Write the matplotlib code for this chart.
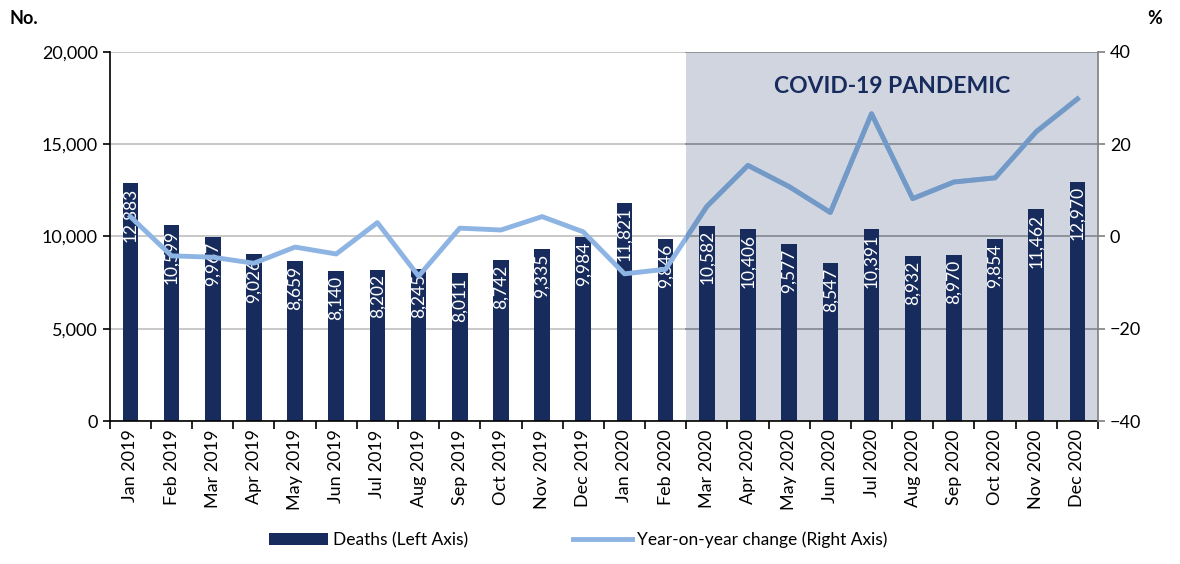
import matplotlib.pyplot as plt
from matplotlib.patches import Rectangle
import numpy as np

plt.rcParams['font.family'] = ['Lato', 'DejaVu Sans']

months = ["Jan 2019", "Feb 2019", "Mar 2019", "Apr 2019", "May 2019", "Jun 2019",
          "Jul 2019", "Aug 2019", "Sep 2019", "Oct 2019", "Nov 2019", "Dec 2019",
          "Jan 2020", "Feb 2020", "Mar 2020", "Apr 2020", "May 2020", "Jun 2020",
          "Jul 2020", "Aug 2020", "Sep 2020", "Oct 2020", "Nov 2020", "Dec 2020"]
deaths = [12883, 10599, 9967, 9026, 8659, 8140, 8202, 8245, 8011, 8742, 9335, 9984,
          11821, 9846, 10582, 10406, 9577, 8547, 10391, 8932, 8970, 9854, 11462, 12970]
yoy_change = [4.3, -4.2, -4.5, -5.8, -2.3, -3.8, 3.0, -8.6, 1.8, 1.4, 4.3, 1.0,
              -8.1, -7.1, 6.5, 15.4, 10.8, 5.2, 26.6, 8.2, 11.8, 12.7, 22.7, 29.8]
left_ticks = [0, 5000, 10000, 15000, 20000]
right_ticks = [-40, -20, 0, 20, 40]
covid_start = "Mar 2020"

navy = "#172B5C"
light = "#8DB4E2"
light_shaded = "#7399C6"

fig = plt.figure(figsize=(11.8, 5.64), dpi=100)
ax = fig.add_axes([0.093, 0.2535, 0.8375, 0.6545])
x = np.arange(len(months))
start = months.index(covid_start) - 0.5
end = len(months) - 0.5

# zona pandemia (detras de las barras)
ax.axvspan(start, end, facecolor="#D0D5E0", lw=0, zorder=1)

# barras
bars = ax.bar(x, deaths, width=0.38, color=navy, zorder=2, label="Deaths (Left Axis)")
for rect, v in zip(bars, deaths):
    ax.text(rect.get_x() + rect.get_width() / 2, rect.get_height() - 250, f"{v:,}",
            rotation=90, ha="center", va="top", color="white", fontsize=12.5, zorder=3)

ax.set_ylim(0, 20000)
ax.set_xlim(-0.5, end)
ax.set_yticks(left_ticks)
ax.set_yticklabels([f"{v:,}" for v in left_ticks], fontsize=13)
ax.set_axisbelow("line")
ax.yaxis.grid(True, color="#BFBFBF", linewidth=1.2)
# lineas de cuadricula mas oscuras dentro de la zona sombreada
for v in left_ticks[1:]:
    ax.plot([start, end], [v, v], color="#8E929C", linewidth=1.4, zorder=1.8)
ax.set_xticks(x)
ax.set_xticklabels(months, rotation=90, fontsize=13)
ax.tick_params(axis="x", length=0, pad=6)
ax.set_xticks(np.arange(-0.5, len(months), 1), minor=True)
ax.tick_params(axis="x", which="minor", length=6, width=1.2, color="black")
ax.tick_params(axis="y", length=5, width=1.2, direction="out")
for s in ["top", "right"]:
    ax.spines[s].set_visible(False)
ax.spines["left"].set_linewidth(1.2)
ax.spines["bottom"].set_linewidth(1.2)

# eje derecho
ax2 = ax.twinx()
line, = ax2.plot(x, yoy_change, color=light, linewidth=3.5, zorder=4,
                 label="Year-on-year change (Right Axis)")
dark_line, = ax2.plot(x, yoy_change, color=light_shaded, linewidth=3.5, zorder=4.5)
clip = Rectangle((start, -40), end - start, 80, transform=ax2.transData, visible=False)
ax2.add_patch(clip)
dark_line.set_clip_path(clip)
ax2.set_ylim(-40, 40)
ax2.set_yticks(right_ticks)
ax2.tick_params(axis="y", labelsize=13, length=5, width=1.2, color="#7F7F7F")
for s in ["top", "left", "bottom"]:
    ax2.spines[s].set_visible(False)
ax2.spines["right"].set_color("#7F7F7F")
ax2.spines["right"].set_linewidth(1.2)

ax2.text((start + end) / 2, 32.5, "COVID-19 PANDEMIC", ha="center", va="center",
         fontsize=16.5, fontweight="bold", color=navy, zorder=6)

fig.text(0.008, 0.968, "No.", fontsize=13, fontweight="bold", ha="left", va="center")
fig.text(0.985, 0.968, "%", fontsize=13, fontweight="bold", ha="right", va="center")

fig.legend([bars, line], [bars.get_label(), line.get_label()], loc="lower center",
           bbox_to_anchor=(0.49, 0.0), ncol=2, frameon=False, fontsize=12.5,
           columnspacing=6, handlelength=3.4, handletextpad=0.3)

fig.savefig("out.png", dpi=100)
